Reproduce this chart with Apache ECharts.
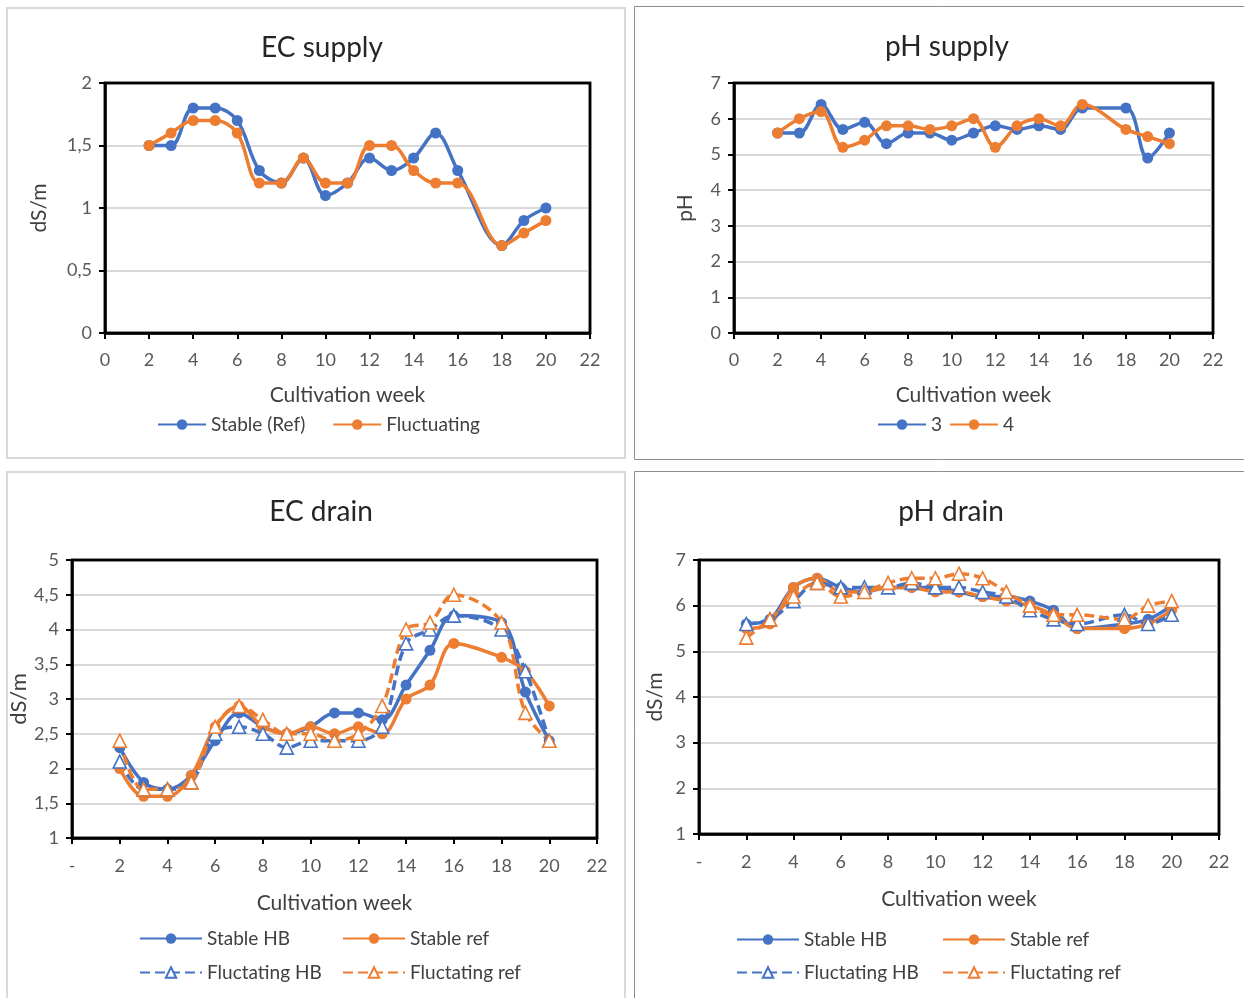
<!DOCTYPE html>
<html>
<head>
<meta charset="utf-8">
<script src="https://cdn.jsdelivr.net/npm/echarts@6/dist/echarts.min.js"></script>
<style>
  html, body { margin: 0; padding: 0; background: #fff; }
  #chart { width: 1244px; height: 998px; }
</style>
</head>
<body>
<div id="chart"></div>
<script>
// Cultivation weeks with measurements (no sample in week 17)
const weeks = [2, 3, 4, 5, 6, 7, 8, 9, 10, 11, 12, 13, 14, 15, 16, 18, 19, 20];

// EC supply (dS/m)
const ecSupplyStable = [1.5, 1.5, 1.8, 1.8, 1.7, 1.3, 1.2, 1.4, 1.1, 1.2, 1.4, 1.3, 1.4, 1.6, 1.3, 0.7, 0.9, 1.0];
const ecSupplyFluct  = [1.5, 1.6, 1.7, 1.7, 1.6, 1.2, 1.2, 1.4, 1.2, 1.2, 1.5, 1.5, 1.3, 1.2, 1.2, 0.7, 0.8, 0.9];

// pH supply
const phSupply3 = [5.6, 5.6, 6.4, 5.7, 5.9, 5.3, 5.6, 5.6, 5.4, 5.6, 5.8, 5.7, 5.8, 5.7, 6.3, 6.3, 4.9, 5.6];
const phSupply4 = [5.6, 6.0, 6.2, 5.2, 5.4, 5.8, 5.8, 5.7, 5.8, 6.0, 5.2, 5.8, 6.0, 5.8, 6.4, 5.7, 5.5, 5.3];

// EC drain (dS/m)
const ecDrainStableHB = [2.3, 1.8, 1.7, 1.9, 2.4, 2.8, 2.6, 2.5, 2.6, 2.8, 2.8, 2.7, 3.2, 3.7, 4.2, 4.1, 3.1, 2.4];
const ecDrainStableRef = [2.0, 1.6, 1.6, 1.9, 2.6, 2.9, 2.6, 2.5, 2.6, 2.5, 2.6, 2.5, 3.0, 3.2, 3.8, 3.6, 3.4, 2.9];
const ecDrainFluctHB  = [2.1, 1.7, 1.7, 1.8, 2.5, 2.6, 2.5, 2.3, 2.4, 2.4, 2.4, 2.6, 3.8, 4.0, 4.2, 4.0, 3.4, 2.4];
const ecDrainFluctRef = [2.4, 1.7, 1.7, 1.8, 2.6, 2.9, 2.7, 2.5, 2.5, 2.4, 2.5, 2.9, 4.0, 4.1, 4.5, 4.1, 2.8, 2.4];

// pH drain
const phDrainStableHB = [5.6, 5.7, 6.4, 6.6, 6.4, 6.3, 6.4, 6.4, 6.4, 6.3, 6.2, 6.2, 6.1, 5.9, 5.5, 5.6, 5.7, 6.0];
const phDrainStableRef = [5.5, 5.6, 6.4, 6.6, 6.3, 6.3, 6.4, 6.4, 6.3, 6.3, 6.2, 6.1, 6.0, 5.8, 5.5, 5.5, 5.6, 5.9];
const phDrainFluctHB  = [5.6, 5.7, 6.1, 6.5, 6.4, 6.4, 6.4, 6.5, 6.4, 6.4, 6.3, 6.2, 5.9, 5.7, 5.6, 5.8, 5.6, 5.8];
const phDrainFluctRef = [5.3, 5.7, 6.2, 6.5, 6.2, 6.3, 6.5, 6.6, 6.6, 6.7, 6.6, 6.3, 6.0, 5.8, 5.8, 5.7, 6.0, 6.1];

const BLUE = '#4472C4';
const ORANGE = '#ED7D31';
const FONT = 'Lato, "Open Sans", sans-serif';
const LABEL = '#595959';
const TEXT = '#404040';

const comma = v => String(v).replace('.', ',');

// Plot rectangles: [left, top, width, height]
const plots = [
  [105, 83, 485, 250],
  [734, 83, 479, 250],
  [72, 560, 525, 278],
  [699, 560, 520, 274]
];

function series(name, vals, color, kind, idx) {
  const circle = kind === 'circle';
  return {
    type: 'line', name, xAxisIndex: idx, yAxisIndex: idx,
    data: weeks.map((w, i) => [w, vals[i]]),
    smooth: 0.35,
    symbol: circle ? 'circle' : 'triangle',
    symbolSize: circle ? 11 : 13,
    lineStyle: { color, width: 3.5, type: circle ? 'solid' : [10, 5] },
    itemStyle: circle ? { color } : { color: '#fff', borderColor: color, borderWidth: 1.6 },
    emphasis: { disabled: true },
    animation: false
  };
}

function grid(p) {
  return { left: p[0], top: p[1], width: p[2], height: p[3],
    show: true, borderColor: '#000', borderWidth: 2.5, backgroundColor: 'transparent' };
}

function xAxis(idx, zeroLabel, nameGap, margin) {
  return {
    type: 'value', gridIndex: idx, min: 0, max: 22, interval: 2,
    name: 'Cultivation week', nameLocation: 'middle', nameGap,
    nameTextStyle: { fontFamily: FONT, fontSize: 21, color: TEXT },
    axisLine: { lineStyle: { color: '#000', width: 2.5 } },
    axisTick: { show: true, length: 6, lineStyle: { color: '#000', width: 2 } },
    axisLabel: { fontFamily: FONT, fontSize: 18, color: LABEL, margin,
      formatter: v => (v === 0 ? zeroLabel : String(v)) },
    splitLine: { show: false }
  };
}

function yAxis(idx, name, min, max, interval, nameGap, nameSize) {
  return {
    type: 'value', gridIndex: idx, min, max, interval,
    name, nameLocation: 'middle', nameGap, nameRotate: 90,
    nameTextStyle: { fontFamily: FONT, fontSize: nameSize, color: TEXT },
    axisLine: { show: true, lineStyle: { color: '#000', width: 2.5 } },
    axisTick: { show: true, length: 6, lineStyle: { color: '#000', width: 2 } },
    axisLabel: { fontFamily: FONT, fontSize: 18, color: LABEL, margin: 13, formatter: comma },
    splitLine: { show: true, showMinLine: false, showMaxLine: false,
      lineStyle: { color: '#d9d9d9', width: 2 } }
  };
}

function legend(names, left, top, itemWidth, itemGap, orient) {
  return {
    data: names, left, top, orient: orient || 'horizontal',
    itemWidth, itemHeight: 13, itemGap,
    selectedMode: false,
    textStyle: { fontFamily: FONT, fontSize: 19, color: TEXT }
  };
}

function title(text, cx, top) {
  return { text, left: cx, top, textAlign: 'center',
    textStyle: { fontFamily: FONT, fontSize: 28, fontWeight: 'normal', color: '#262626' } };
}

// Panel frames
const frames = [
  { type: 'rect', shape: { x: 7, y: 8, width: 618, height: 450 }, style: { fill: 'none', stroke: '#d9d9d9', lineWidth: 2 } },
  { type: 'rect', shape: { x: 634.5, y: 6.5, width: 620, height: 453 }, style: { fill: 'none', stroke: '#8c8c8c', lineWidth: 1 } },
  { type: 'rect', shape: { x: 7, y: 472, width: 618, height: 540 }, style: { fill: 'none', stroke: '#d9d9d9', lineWidth: 2 } },
  { type: 'rect', shape: { x: 634.5, y: 471.5, width: 620, height: 540 }, style: { fill: 'none', stroke: '#8c8c8c', lineWidth: 1 } }
].map(g => Object.assign(g, { silent: true, z: -10 }));

// Black outline of each plot area, kept above the gridlines
const plotBoxes = plots.map(p => ({
  type: 'rect', silent: true, z: 100,
  shape: { x: p[0], y: p[1], width: p[2], height: p[3] },
  style: { fill: 'none', stroke: '#000', lineWidth: 2.5 }
}));

const option = {
  backgroundColor: '#fff',
  animation: false,
  graphic: frames.concat(plotBoxes),
  title: [
    title('EC supply', 317, 29),
    title('pH supply', 942, 28),
    title('EC drain', 316, 493),
    title('pH drain', 946, 493)
  ],
  grid: plots.map(grid),
  xAxis: [
    xAxis(0, '0', 52, 18),
    xAxis(1, '0', 52, 18),
    xAxis(2, '-', 55, 19),
    xAxis(3, '-', 55, 19)
  ],
  yAxis: [
    yAxis(0, 'dS/m', 0, 2, 0.5, 55, 21),
    yAxis(1, 'pH', 0, 7, 1, 38, 21),
    yAxis(2, 'dS/m', 1, 5, 0.5, 26, 22),
    yAxis(3, 'dS/m', 1, 7, 1, 33, 21)
  ],
  legend: [
    legend(['Stable (Ref)', 'Fluctuating'], 152, 410, 48, 27),
    legend(['3', '4'], 872, 410, 48, 7),
    legend(['Stable HB', 'Fluctating HB'], 134, 924, 62, 15, 'vertical'),
    legend(['Stable ref', 'Fluctating ref'], 337, 924, 62, 15, 'vertical'),
    legend(['Stable HB', 'Fluctating HB'], 731, 925, 62, 14, 'vertical'),
    legend(['Stable ref', 'Fluctating ref'], 937, 925, 62, 14, 'vertical')
  ],
  series: [
    series('Stable (Ref)', ecSupplyStable, BLUE, 'circle', 0),
    series('Fluctuating', ecSupplyFluct, ORANGE, 'circle', 0),

    series('3', phSupply3, BLUE, 'circle', 1),
    series('4', phSupply4, ORANGE, 'circle', 1),

    series('Stable HB', ecDrainStableHB, BLUE, 'circle', 2),
    series('Stable ref', ecDrainStableRef, ORANGE, 'circle', 2),
    series('Fluctating HB', ecDrainFluctHB, BLUE, 'triangle', 2),
    series('Fluctating ref', ecDrainFluctRef, ORANGE, 'triangle', 2),

    series('Stable HB', phDrainStableHB, BLUE, 'circle', 3),
    series('Stable ref', phDrainStableRef, ORANGE, 'circle', 3),
    series('Fluctating HB', phDrainFluctHB, BLUE, 'triangle', 3),
    series('Fluctating ref', phDrainFluctRef, ORANGE, 'triangle', 3)
  ]
};

const chart = echarts.init(document.getElementById('chart'), null, { renderer: 'canvas' });
chart.setOption(option);
</script>
</body>
</html>
